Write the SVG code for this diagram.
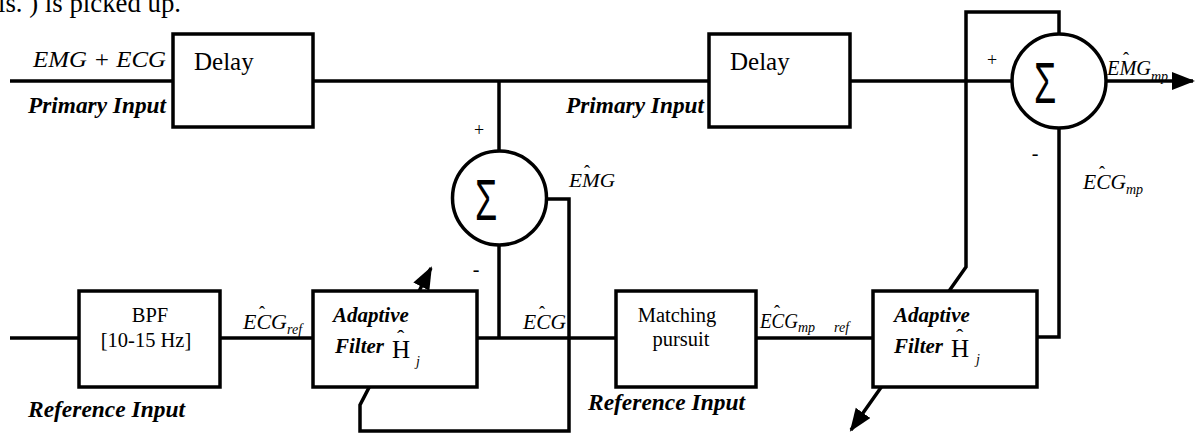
<svg xmlns="http://www.w3.org/2000/svg" width="1195" height="434" viewBox="0 0 1195 434">
<style>
.box{fill:#fff;stroke:#000;stroke-width:3.5}
.ln{fill:none;stroke:#000;stroke-width:3.5;stroke-linejoin:miter}
.sum{fill:#fff;stroke:#000;stroke-width:3.5}
.t{font-family:'Liberation Serif','Times New Roman',Times,'DejaVu Serif',serif;fill:#000}
.it{font-family:'Liberation Serif','Times New Roman',Times,'DejaVu Serif',serif;font-style:italic;fill:#000}
.bi{font-family:'Liberation Serif','Times New Roman',Times,'DejaVu Serif',serif;font-style:italic;font-weight:bold;fill:#000}
.sig{font-family:'Liberation Sans',Arial,sans-serif;fill:#000}
</style>
<defs>
<marker id="ah" markerUnits="userSpaceOnUse" markerWidth="26" markerHeight="20" refX="21" refY="9" orient="auto" viewBox="0 0 26 20">
<path d="M0,0 L23,9 L0,18 Z" fill="#000"/>
</marker>
</defs>
<rect width="1195" height="434" fill="#fff"/>
<text class="t" x="-2" y="12" font-size="27" textLength="183" lengthAdjust="spacingAndGlyphs">ls. ) is picked up.</text>

<g id="connectors">
<path class="ln" d="M10,81 H173"/>
<path class="ln" d="M313,81 H709"/>
<path class="ln" d="M499,81 V151"/>
<path class="ln" d="M850,81 H1012"/>
<path class="ln" d="M1106,81 H1193" marker-end="url(#ah)"/>
<path class="ln" d="M499,245 V338"/>
<path class="ln" d="M10,338 H79"/>
<path class="ln" d="M220,338 H313"/>
<path class="ln" d="M477,338 H616"/>
<path class="ln" d="M756,338 H873"/>
<path class="ln" d="M1037,337 H1059 V128"/>
<path class="ln" d="M547,199 H569 V431 H360 V405 L431,268" marker-end="url(#ah)"/>
<path class="ln" d="M1059,34 V12 H966 V267 L851,430" marker-end="url(#ah)"/>
</g>

<g id="delay1">
<rect class="box" x="173" y="34" width="140" height="93"/>
<text class="t" x="194" y="70" font-size="25">Delay</text>
</g>
<g id="delay2">
<rect class="box" x="709" y="34" width="141" height="93"/>
<text class="t" x="730" y="70" font-size="25">Delay</text>
</g>
<g id="sum1">
<circle class="sum" cx="499.5" cy="198" r="47"/>
<text class="sig" x="0" y="0" font-size="58" transform="translate(475,220) scale(0.62,1)">Σ</text>
</g>
<g id="sum2">
<circle class="sum" cx="1059" cy="81" r="47"/>
<text class="sig" x="0" y="0" font-size="58" transform="translate(1034,103) scale(0.62,1)">Σ</text>
</g>
<g id="bpf">
<rect class="box" x="79" y="291" width="141" height="96"/>
<text class="t" x="150" y="322" font-size="20.5" text-anchor="middle">BPF</text>
<text class="t" x="146" y="347" font-size="20.5" text-anchor="middle">[10-15 Hz]</text>
</g>
<g id="filter1">
<rect class="box" x="313" y="291" width="164" height="96"/>
<text class="bi" x="333" y="322" font-size="21">Adaptive</text>
<text class="bi" x="335" y="353" font-size="21">Filter</text>
<text class="t" x="392" y="358" font-size="25">H</text>
<text class="t" x="397" y="345" font-size="22">ˆ</text>
<text class="it" x="416" y="366" font-size="14">j</text>
</g>
<g id="matching">
<rect class="box" x="616" y="291" width="140" height="96"/>
<text class="t" x="677" y="322" font-size="20.5" text-anchor="middle">Matching</text>
<text class="t" x="681" y="346" font-size="20.5" text-anchor="middle">pursuit</text>
</g>
<g id="filter2">
<rect class="box" x="873" y="291" width="164" height="96"/>
<text class="bi" x="894" y="322" font-size="21">Adaptive</text>
<text class="bi" x="894" y="353" font-size="21">Filter</text>
<text class="t" x="951" y="357" font-size="25">H</text>
<text class="t" x="956" y="344" font-size="22">ˆ</text>
<text class="it" x="976" y="364" font-size="14">j</text>
</g>

<g id="labels">
<text class="it" x="33" y="67" font-size="24" textLength="133" lengthAdjust="spacingAndGlyphs">EMG + ECG</text>
<text class="bi" x="28" y="113" font-size="23" textLength="138" lengthAdjust="spacingAndGlyphs">Primary Input</text>
<text class="bi" x="566" y="113" font-size="23" textLength="138" lengthAdjust="spacingAndGlyphs">Primary Input</text>
<text class="bi" x="28" y="417" font-size="23" textLength="157" lengthAdjust="spacingAndGlyphs">Reference Input</text>
<text class="bi" x="588" y="410" font-size="23" textLength="157" lengthAdjust="spacingAndGlyphs">Reference Input</text>
<text class="t" x="479" y="136" font-size="18" text-anchor="middle">+</text>
<text class="t" x="476" y="276" font-size="20" text-anchor="middle">-</text>
<text class="t" x="992" y="66" font-size="18" text-anchor="middle">+</text>
<text class="t" x="1035" y="160" font-size="20" text-anchor="middle">-</text>

<text class="it" x="569" y="187" font-size="19" textLength="46" lengthAdjust="spacingAndGlyphs">EMG</text>
<text class="t" x="584" y="178" font-size="18">ˆ</text>

<text class="it" x="1107" y="75" font-size="20" textLength="44" lengthAdjust="spacingAndGlyphs">EMG</text>
<text class="t" x="1123" y="65" font-size="18">ˆ</text>
<text class="it" x="1151" y="81" font-size="14">mp</text>

<text class="it" x="1083" y="189" font-size="20" textLength="43" lengthAdjust="spacingAndGlyphs">ECG</text>
<text class="t" x="1099" y="179" font-size="18">ˆ</text>
<text class="it" x="1126" y="194" font-size="14">mp</text>

<text class="it" x="243" y="329" font-size="20" textLength="44" lengthAdjust="spacingAndGlyphs">ECG</text>
<text class="t" x="259" y="319" font-size="18">ˆ</text>
<text class="it" x="287" y="334" font-size="14">ref</text>

<text class="it" x="523" y="329" font-size="20" textLength="43" lengthAdjust="spacingAndGlyphs">ECG</text>
<text class="t" x="539" y="319" font-size="18">ˆ</text>

<text class="it" x="760" y="328" font-size="20" textLength="38" lengthAdjust="spacingAndGlyphs">ECG</text>
<text class="t" x="774" y="318" font-size="18">ˆ</text>
<text class="it" x="798" y="332" font-size="14">mp</text>
<text class="it" x="834" y="332" font-size="14">ref</text>
</g>
</svg>
